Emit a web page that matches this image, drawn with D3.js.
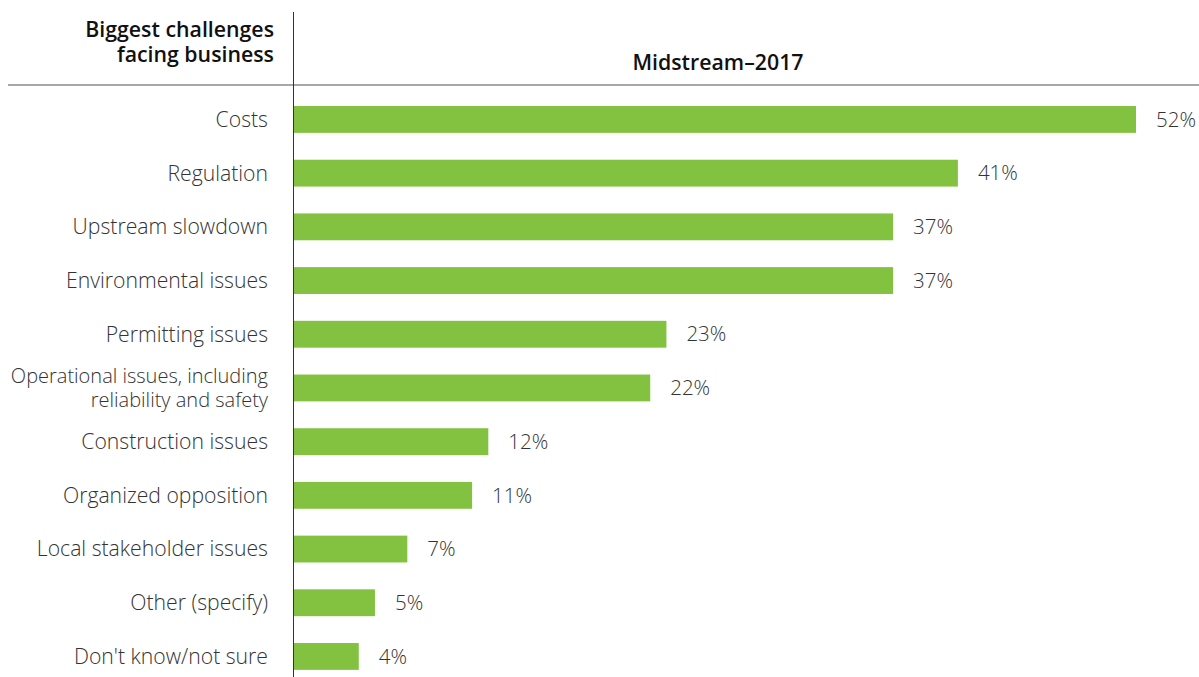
<!DOCTYPE html>
<html>
<head>
<meta charset="utf-8">
<script src="https://cdn.jsdelivr.net/npm/d3@7"></script>
<style>
  html, body { margin: 0; padding: 0; background: #fff; }
  svg { display: block; font-family: "Open Sans", sans-serif; }
</style>
</head>
<body>
<svg id="chart" width="1199" height="677"></svg>
<script>
// Survey responses: biggest challenges facing midstream business, 2017
const categories = [
  ["Costs"],
  ["Regulation"],
  ["Upstream slowdown"],
  ["Environmental issues"],
  ["Permitting issues"],
  ["Operational issues, including", "reliability and safety"],
  ["Construction issues"],
  ["Organized opposition"],
  ["Local stakeholder issues"],
  ["Other (specify)"],
  ["Don't know/not sure"]
];
const values = [52, 41, 37, 37, 23, 22, 12, 11, 7, 5, 4];
const rowHeader = ["Biggest challenges", "facing business"];
const seriesName = "Midstream\u20132017";

const svg = d3.select("#chart");
const axisX = 293.5;
const labelRight = 268;

const x = d3.scaleLinear().domain([0, 52]).range([294, 1136]);
const y = d3.scaleBand()
  .domain(d3.range(values.length))
  .range([92.6, 683.3])
  .paddingInner(0.5)
  .paddingOuter(0.25);

// Header divider
svg.append("line")
  .attr("x1", 8).attr("x2", 1199)
  .attr("y1", 85).attr("y2", 85)
  .attr("stroke", "#8a8a8a").attr("stroke-width", 1.5);

// Vertical axis rule
svg.append("line")
  .attr("x1", axisX).attr("x2", axisX)
  .attr("y1", 12).attr("y2", 677)
  .attr("stroke", "#333").attr("stroke-width", 1);

// Row header, one text per line
svg.append("g").selectAll("text").data(rowHeader).join("text")
  .attr("x", 274).attr("y", (d, i) => 37 + i * 25)
  .attr("text-anchor", "end")
  .attr("font-size", 21.3).attr("font-weight", 600).attr("fill", "#111")
  .text(d => d);

// Column header
svg.append("text")
  .attr("x", 718).attr("y", 70)
  .attr("text-anchor", "middle")
  .attr("font-size", 21.3).attr("font-weight", 600).attr("fill", "#111")
  .text(seriesName);

const rows = svg.append("g").selectAll("g")
  .data(values.map((v, i) => ({ v, label: categories[i], i })))
  .join("g");

rows.append("rect")
  .attr("x", x(0))
  .attr("y", d => y(d.i))
  .attr("width", d => x(d.v) - x(0))
  .attr("height", y.bandwidth())
  .attr("fill", "#83c241");

rows.append("text")
  .attr("x", d => x(d.v) + 20)
  .attr("y", d => y(d.i) + y.bandwidth() / 2)
  .attr("dy", "0.35em")
  .attr("font-size", 20.5).attr("font-weight", 300).attr("fill", "#333")
  .text(d => d.v + "%");

// Category labels; wrapped labels are set slightly smaller
rows.each(function (d) {
  const g = d3.select(this);
  const cy = y(d.i) + y.bandwidth() / 2;
  const n = d.label.length;
  d.label.forEach((line, k) => {
    g.append("text")
      .attr("x", labelRight)
      .attr("y", cy + (k - (n - 1) / 2) * 24)
      .attr("dy", "0.35em")
      .attr("text-anchor", "end")
      .attr("font-size", n > 1 ? 20 : 21.2)
      .attr("font-weight", 300).attr("fill", "#333")
      .text(line);
  });
});
</script>
</body>
</html>
